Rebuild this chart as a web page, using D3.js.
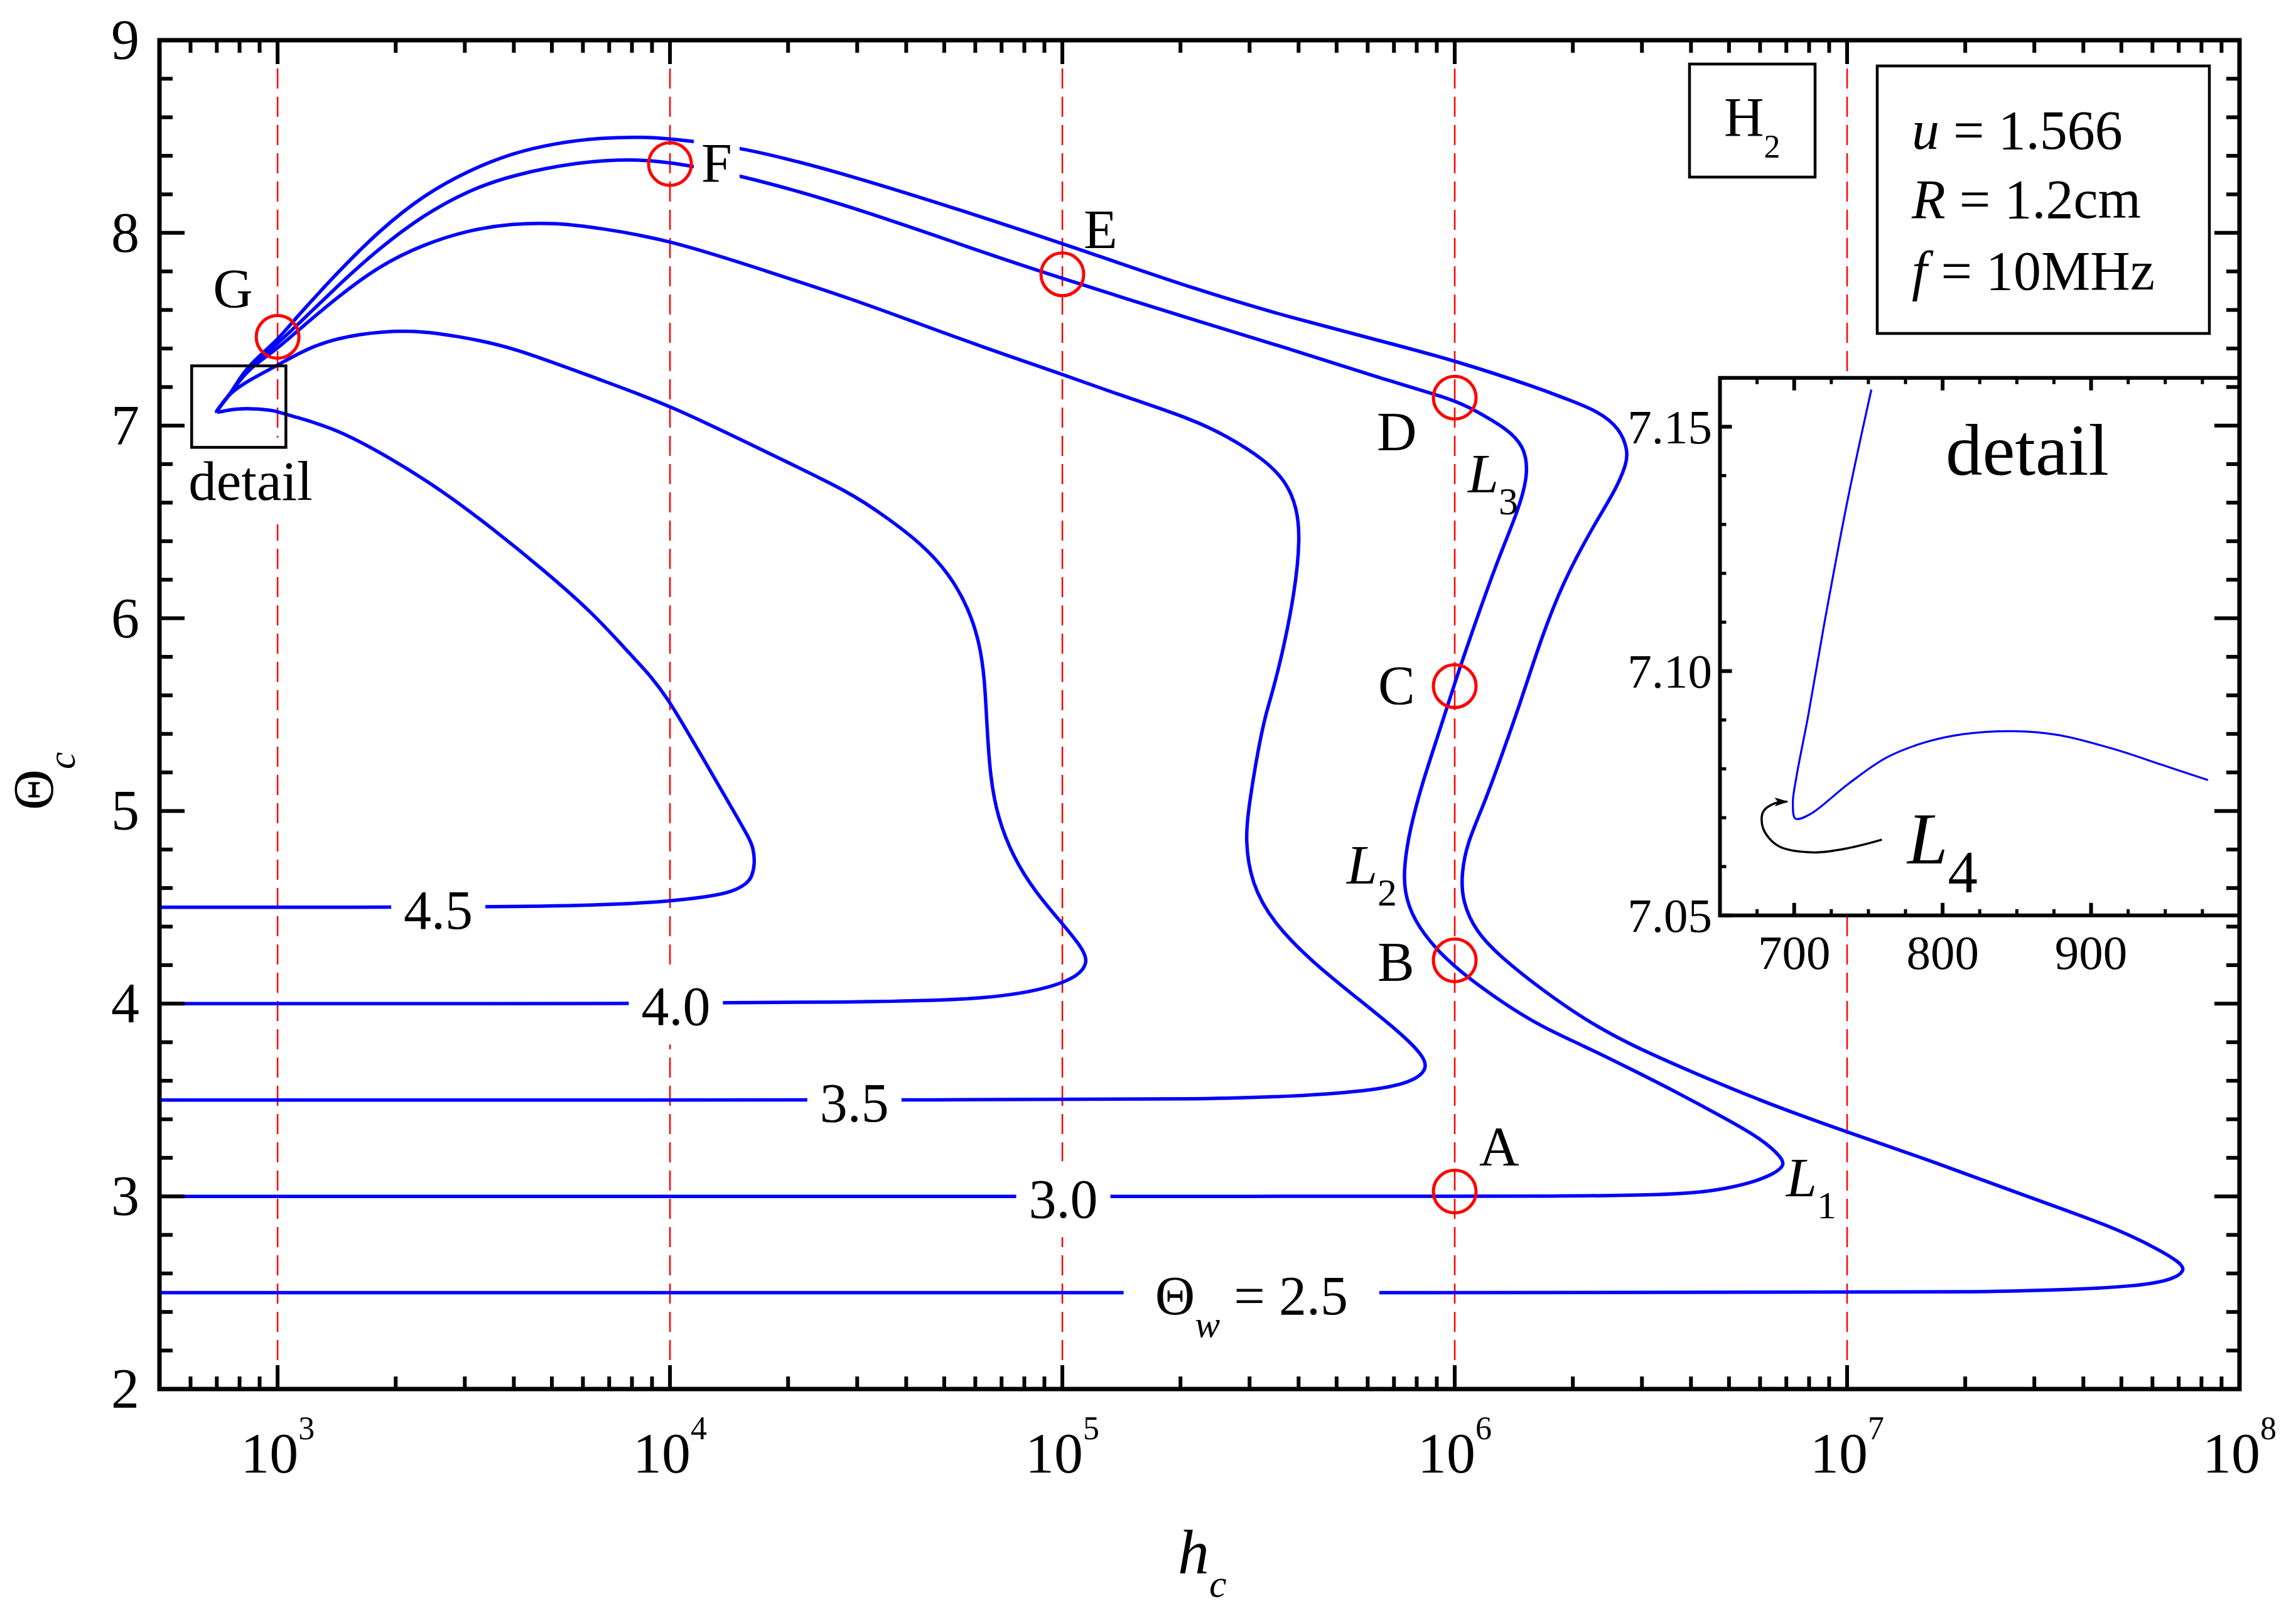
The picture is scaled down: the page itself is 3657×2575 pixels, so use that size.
<!DOCTYPE html>
<html><head><meta charset="utf-8">
<script src="https://cdn.jsdelivr.net/npm/d3@7"></script>
<style>
body{margin:0;background:#fff}
text{font-family:"Liberation Serif","Times New Roman",serif}
</style>
</head><body>
<svg id="chart" width="3657" height="2575"></svg>
<script>
// ---------------- data ----------------
const xTickExponents = [3, 4, 5, 6, 7, 8];
const yTickValues = [2, 3, 4, 5, 6, 7, 8, 9];
const insetXTicks = [700, 800, 900];
const insetYTicks = [7.05, 7.10, 7.15];
const guideH = [1e3, 1e4, 1e5, 1e6, 1e7];

const thetaW = [4.5, 4.0, 3.5, 3.0, 2.5];
const curveLabelText = ["4.5", "4.0", "3.5", "3.0", "2.5"];
const curveLabelH = [2568, 10350, 29510, 100550, 303400];

// common approach of the upper branches to the cusp (h, Theta)
const tipApproach = [[752,7.1576],[736.4,7.1356],[721,7.1109],[709.4,7.0908],[701.6,7.0785],[699.1,7.073],[700.9,7.0698]];

const curve45 = [[500,4.5],[3162,4.5],[6607,4.51],[10000,4.531],[12590,4.556],[14390,4.579],[15760,4.625],[16180,4.66],[16470,4.728],[16300,4.808],[15970,4.854],[14390,5.014],[12020,5.288],[10757,5.456],[9829,5.587],[8944,5.699],[8050,5.797],[6383,6.025],[4742,6.254],[3565,6.459],[2618,6.665],[1919,6.837],[1406,6.985],[1086,7.05],[979,7.0777],[948,7.0808],[917,7.0839],[878,7.0869],[847,7.0877],[814,7.0871],[788,7.0854],[762,7.0823],[736,7.0769],[711,7.0707],[700.9,7.0698]];

const curve40 = [[500,4.0],[10000,4.0],[28770,4.008],[62520,4.019],[92040,4.077],[110400,4.145],[116100,4.214],[113200,4.282],[99540,4.42],[85310,4.579],[74820,4.762],[68390,4.968],[65460,5.174],[64120,5.471],[63390,5.682],[61660,5.865],[57810,6.048],[51520,6.231],[43550,6.391],[35400,6.528],[28770,6.654],[18660,6.837],[10000,7.107],[6637,7.237],[3954,7.408],[3055,7.454],[2213,7.5],[1600,7.477],[1236,7.42],[1000,7.313],[839,7.232],[776,7.183]];

const curve35 = [[500,3.5],[100000,3.5],[227500,3.505],[381900,3.517],[639700,3.551],[787000,3.597],[855100,3.665],[827900,3.734],[727800,3.848],[562300,4.031],[434500,4.214],[344400,4.42],[302700,4.625],[292400,4.854],[298500,5.014],[310500,5.242],[326600,5.471],[339600,5.585],[362200,5.797],[391700,6.14],[403600,6.414],[396300,6.574],[371500,6.711],[326600,6.825],[265500,6.94],[216300,7.031],[135800,7.168],[100200,7.266],[62520,7.408],[42460,7.534],[28770,7.66],[18660,7.785],[10000,7.964],[6637,8.025],[5117,8.053],[3954,8.048],[3055,8.014],[2360,7.941],[1820,7.831],[1406,7.66],[1086,7.465],[1000,7.40],[839,7.29],[776,7.195]];

const curve30 = [[500,3.0],[1000000,3.0],[1656000,3.0],[3597000,3.007],[4656000,3.03],[5728000,3.071],[6516000,3.117],[6950000,3.162],[6776000,3.208],[6026000,3.299],[5035000,3.391],[3597000,3.551],[2780000,3.665],[2143000,3.779],[1656000,3.882],[1318000,4.008],[1045000,4.157],[895400,4.282],[787000,4.431],[743000,4.58],[743000,4.717],[767400,4.9],[827900,5.151],[918300,5.425],[997700,5.66],[1130000,5.98],[1285000,6.3],[1462000,6.574],[1542000,6.757],[1503000,6.894],[1355000,6.985],[1130000,7.077],[1000000,7.134],[639700,7.248],[381900,7.397],[227500,7.534],[100200,7.762],[62520,7.9],[28770,8.14],[15170,8.3],[10000,8.368],[7943,8.384],[5834,8.368],[3954,8.3],[3055,8.219],[2360,8.094],[1820,7.922],[1406,7.717],[1000,7.42],[839,7.30],[776,7.197]];

const curve25 = [[500,2.5],[10000000,2.5],[21980000,2.504],[36810000,2.515],[54200000,2.534],[66680000,2.563],[73110000,2.614],[70310000,2.659],[61800000,2.728],[47640000,2.842],[28440000,3.002],[16940000,3.174],[9977000,3.334],[6026000,3.494],[3597000,3.688],[2780000,3.791],[2143000,3.917],[1656000,4.077],[1318000,4.237],[1130000,4.374],[1045000,4.534],[1040000,4.671],[1074000,4.831],[1189000,5.037],[1318000,5.288],[1483000,5.585],[1656000,5.888],[1884000,6.185],[2259000,6.482],[2570000,6.665],[2742000,6.802],[2761000,6.871],[2636000,6.985],[2317000,7.077],[1884000,7.145],[1656000,7.191],[997700,7.339],[639700,7.442],[381900,7.561],[227500,7.694],[100200,7.945],[62520,8.082],[28770,8.3],[15170,8.448],[10000,8.489],[8590,8.498],[6637,8.494],[5117,8.466],[3954,8.414],[3055,8.322],[2360,8.197],[1820,8.014],[1406,7.785],[1086,7.534],[1000,7.443],[839,7.31],[776,7.20]];

const markerLabels = ["G", "F", "E", "D", "C", "B", "A"];
const markerH = [1e3, 1e4, 1e5, 1e6, 1e6, 1e6, 1e6];
const markerTheta = [7.46, 8.357, 7.785, 7.145, 5.648, 4.225, 3.025];

const branchLabels = ["1", "2", "3"];
const detailRegionH = [604, 1050];
const detailRegionTheta = [6.887, 7.31];

// inset (detail) curve and L4 pointer, in inset coordinates (h, Theta)
const insetCurve = [[752,7.1576],[736.4,7.1356],[721,7.1109],[709.4,7.0908],[701.6,7.0785],[699.1,7.073],[700.9,7.0698],[710.7,7.0707],[736.4,7.0769],[762.2,7.0823],[788,7.0854],[813.8,7.0871],[847.3,7.0877],[878.3,7.0869],[917,7.0839],[947.9,7.0808],[978.8,7.0777]];
const pointerPath = [[759.1,7.0655],[736.8,7.0638],[713.2,7.0629],[689.4,7.0642],[679.1,7.0678],[679.1,7.0712],[686.5,7.0729],[695.3,7.0733]];

const paramLines = [["u", " = 1.566"], ["R", " = 1.2cm"], ["f", " = 10MHz"]];

// ---------------- layout ----------------
const W = 3657, H = 2575;
const M = {l: 254, r: 3567, t: 64, b: 2212};
const x = d3.scaleLog().domain([500, 1e8]).range([M.l, M.r]);
const y = d3.scaleLinear().domain([2, 9]).range([M.b, M.t]);
const IN = {l: 2739.5, r: 3567, t: 601.7, b: 1457.8};
const xi = d3.scaleLinear().domain([650, 1000]).range([IN.l, IN.r]);
const yi = d3.scaleLinear().domain([7.05, 7.16]).range([IN.b, IN.t]);

const svg = d3.select("#chart");
svg.append("rect").attr("width", W).attr("height", H).attr("fill", "#fff");
const defs = svg.append("defs");
defs.append("clipPath").attr("id", "plotClip").append("rect")
  .attr("x", M.l).attr("y", M.t).attr("width", M.r - M.l).attr("height", M.b - M.t);
defs.append("marker").attr("id", "arrow").attr("viewBox", "0 0 22 14")
  .attr("refX", 20).attr("refY", 7).attr("markerWidth", 22).attr("markerHeight", 14)
  .attr("markerUnits", "userSpaceOnUse").attr("orient", "auto")
  .append("path").attr("d", "M0,0 L22,7 L0,14 L5,7 Z").attr("fill", "#000");

function addText(parent, px, py, parts, size, anchor) {
  const t = parent.append("text").attr("x", px).attr("y", py)
    .attr("font-size", size).attr("text-anchor", anchor || "start").attr("fill", "#000");
  let shift = 0;
  parts.forEach(p => {
    const ts = t.append("tspan").text(p.t);
    if (p.italic) ts.attr("font-style", "italic");
    if (p.size) ts.attr("font-size", p.size);
    const target = p.shift || 0;
    if (target !== shift) { ts.attr("dy", target - shift); shift = target; }
  });
  return t;
}
function knockout(parent, t, padX, padY) {
  const b = t.node().getBBox();
  parent.insert("rect", () => t.node())
    .attr("x", b.x - padX).attr("y", b.y - padY)
    .attr("width", b.width + 2 * padX).attr("height", b.height + 2 * padY)
    .attr("fill", "#fff");
}

const plot = svg.append("g").attr("clip-path", "url(#plotClip)");

// guide lines
plot.selectAll("line.guide").data(guideH).join("line").attr("class", "guide")
  .attr("x1", d => x(d)).attr("x2", d => x(d)).attr("y1", M.t).attr("y2", M.b)
  .attr("stroke", "#ff0000").attr("stroke-width", 2.5).attr("stroke-dasharray", "32,13");

// curves
const line = d3.line().x(d => x(d[0])).y(d => y(d[1])).curve(d3.curveBasis);
const curves = [curve45, curve40.concat(tipApproach), curve35.concat(tipApproach), curve30.concat(tipApproach), curve25.concat(tipApproach)];
plot.selectAll("path.curve").data(curves).join("path").attr("class", "curve")
  .attr("d", line).attr("fill", "none").attr("stroke", "#0000ff")
  .attr("stroke-width", 5.5).attr("stroke-linejoin", "round");

// marker circles
const markers = markerH.map((h, i) => ({h, th: markerTheta[i], lab: markerLabels[i]}));
plot.selectAll("circle.mk").data(markers).join("circle").attr("class", "mk")
  .attr("cx", d => x(d.h)).attr("cy", d => y(d.th)).attr("r", 34)
  .attr("fill", "none").attr("stroke", "#ff0000").attr("stroke-width", 5);

// annotations layer
const ann = svg.append("g");
const markerOffsets = {G: [-103, -48], F: [50, 28], E: [34, -42], D: [-124, 84], C: [-122, 28], B: [-123, 32], A: [39, -42]};
markers.forEach(d => {
  const o = markerOffsets[d.lab];
  const t = addText(ann, x(d.h) + o[0], y(d.th) + o[1], [{t: d.lab}], 88);
  if (d.lab === "F") knockout(ann, t, 12, 0);
});

// curve value labels
thetaW.forEach((v, i) => {
  const parts = i === 4
    ? [{t: "\u0398"}, {t: "w", italic: true, size: 60, shift: 36}, {t: " = " + curveLabelText[i], shift: 0}]
    : [{t: curveLabelText[i]}];
  const t = addText(ann, x(curveLabelH[i]), y(v) + 34, parts, 88, "middle");
  knockout(ann, t, i === 4 ? 50 : 20, 12);
});

// branch labels L1..L3
const branchPos = [[2845, 1905], [2145, 1407], [2338, 784]];
branchLabels.forEach((s, i) => {
  addText(ann, branchPos[i][0], branchPos[i][1],
    [{t: "L", italic: true}, {t: s, size: 62, shift: 35}], 88);
});

// detail region box
const dt = addText(ann, 399, 796, [{t: "detail"}], 89, "middle");
knockout(ann, dt, 10, 20);
ann.append("rect").attr("x", x(detailRegionH[0])).attr("y", y(detailRegionTheta[1]))
  .attr("width", x(detailRegionH[1]) - x(detailRegionH[0]))
  .attr("height", y(detailRegionTheta[0]) - y(detailRegionTheta[1]))
  .attr("fill", "none").attr("stroke", "#000").attr("stroke-width", 4.5);

// H2 box
ann.append("rect").attr("x", 2691).attr("y", 102).attr("width", 200).attr("height", 180)
  .attr("fill", "#fff").attr("stroke", "#000").attr("stroke-width", 4.5);
addText(ann, 2746, 216, [{t: "H"}, {t: "2", size: 52, shift: 35}], 88);

// parameter box
ann.append("rect").attr("x", 2990).attr("y", 105).attr("width", 529).attr("height", 426)
  .attr("fill", "#fff").attr("stroke", "#000").attr("stroke-width", 4.5);
const paramBase = [237, 347, 461];
paramLines.forEach((p, i) => {
  addText(ann, 3045, paramBase[i], [{t: p[0], italic: true}, {t: p[1]}], 88);
});

// ---------------- inset ----------------
const inset = svg.append("g");
inset.append("rect").attr("x", IN.l).attr("y", IN.t).attr("width", IN.r - IN.l).attr("height", IN.b - IN.t).attr("fill", "#fff");
const iline = d3.line().x(d => xi(d[0])).y(d => yi(d[1])).curve(d3.curveCatmullRom.alpha(0.5));
inset.append("path").attr("d", iline(insetCurve)).attr("fill", "none")
  .attr("stroke", "#0000ff").attr("stroke-width", 3.2);
inset.append("path").attr("d", iline(pointerPath)).attr("fill", "none")
  .attr("stroke", "#000").attr("stroke-width", 3.5).attr("marker-end", "url(#arrow)");
addText(inset, 3229, 756, [{t: "detail"}], 117, "middle");
addText(inset, 3038, 1375, [{t: "L", italic: true}, {t: "4", size: 95, shift: 46}], 116);

// inset axes
const ia = inset.append("g").attr("stroke", "#000");
ia.append("path").attr("d", `M${IN.r},${IN.t} H${IN.l} V${IN.b} H${IN.r}`)
  .attr("fill", "none").attr("stroke-width", 6);
const ixMinor = d3.range(675, 1000, 25).filter(v => insetXTicks.indexOf(v) < 0);
const iyMinor = d3.range(7.06, 7.15, 0.01).filter(v => insetYTicks.every(t => Math.abs(t - v) > 1e-6));
ixMinor.forEach(v => {
  ia.append("line").attr("x1", xi(v)).attr("x2", xi(v)).attr("y1", IN.b).attr("y2", IN.b - 10).attr("stroke-width", 5);
  ia.append("line").attr("x1", xi(v)).attr("x2", xi(v)).attr("y1", IN.t).attr("y2", IN.t + 10).attr("stroke-width", 5);
});
insetXTicks.forEach(v => {
  ia.append("line").attr("x1", xi(v)).attr("x2", xi(v)).attr("y1", IN.b).attr("y2", IN.b - 20).attr("stroke-width", 6);
  ia.append("line").attr("x1", xi(v)).attr("x2", xi(v)).attr("y1", IN.t).attr("y2", IN.t + 20).attr("stroke-width", 6);
  addText(inset, xi(v), 1543, [{t: String(v)}], 77, "middle");
});
iyMinor.forEach(v => {
  ia.append("line").attr("x1", IN.l).attr("x2", IN.l + 10).attr("y1", yi(v)).attr("y2", yi(v)).attr("stroke-width", 5);
});
insetYTicks.forEach(v => {
  ia.append("line").attr("x1", IN.l).attr("x2", IN.l + 19).attr("y1", yi(v)).attr("y2", yi(v)).attr("stroke-width", 6);
  addText(inset, 2727, yi(v) + 26, [{t: v.toFixed(2)}], 77, "end");
});

// ---------------- main axes ----------------
const ax = svg.append("g").attr("stroke", "#000");
ax.append("rect").attr("x", M.l).attr("y", M.t).attr("width", M.r - M.l).attr("height", M.b - M.t)
  .attr("fill", "none").attr("stroke-width", 7);
const xMajor = xTickExponents.map(e => Math.pow(10, e));
const xMinor = [];
for (let e = 2; e < 8; e++) for (let k = 2; k <= 9; k++) { const v = k * Math.pow(10, e); if (v > 500 && v < 1e8) xMinor.push(v); }
xMinor.forEach(v => {
  ax.append("line").attr("x1", x(v)).attr("x2", x(v)).attr("y1", M.b).attr("y2", M.b - 20).attr("stroke-width", 6);
  ax.append("line").attr("x1", x(v)).attr("x2", x(v)).attr("y1", M.t).attr("y2", M.t + 20).attr("stroke-width", 6);
});
xMajor.forEach(v => {
  ax.append("line").attr("x1", x(v)).attr("x2", x(v)).attr("y1", M.b).attr("y2", M.b - 38).attr("stroke-width", 6);
  ax.append("line").attr("x1", x(v)).attr("x2", x(v)).attr("y1", M.t).attr("y2", M.t + 38).attr("stroke-width", 6);
});
const yMinor = d3.range(2.2, 9, 0.2).filter(v => Math.abs(v - Math.round(v)) > 1e-6);
yMinor.forEach(v => {
  ax.append("line").attr("x1", M.l).attr("x2", M.l + 21).attr("y1", y(v)).attr("y2", y(v)).attr("stroke-width", 6);
  ax.append("line").attr("x1", M.r).attr("x2", M.r - 21).attr("y1", y(v)).attr("y2", y(v)).attr("stroke-width", 6);
});
yTickValues.forEach(v => {
  ax.append("line").attr("x1", M.l).attr("x2", M.l + 40).attr("y1", y(v)).attr("y2", y(v)).attr("stroke-width", 6);
  ax.append("line").attr("x1", M.r).attr("x2", M.r - 40).attr("y1", y(v)).attr("y2", y(v)).attr("stroke-width", 6);
});

const labels = svg.append("g");
yTickValues.forEach(v => addText(labels, 222, y(v) + 30, [{t: String(v)}], 90, "end"));
xTickExponents.forEach(e => addText(labels, x(Math.pow(10, e)), 2345,
  [{t: "10"}, {t: String(e), size: 52, shift: -53}], 92, "middle"));

// axis titles
addText(labels, 1876, 2505, [{t: "h", italic: true}, {t: "c", italic: true, size: 62, shift: 38}], 100);
const yt = labels.append("g").attr("transform", "translate(84,1290) rotate(-90)");
addText(yt, 0, 0, [{t: "\u0398"}, {t: "c", italic: true, size: 62, shift: 35}], 90);
</script>
</body></html>
